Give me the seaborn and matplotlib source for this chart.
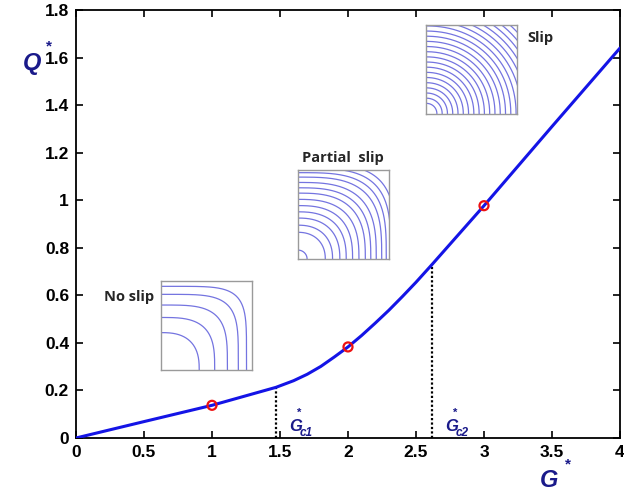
import numpy as np
import pandas as pd
import matplotlib
matplotlib.use("Agg")
import matplotlib.pyplot as plt
import seaborn as sns

# Load–transfer curve Q* versus G*
g_star = [0.0, 0.5, 1.0, 1.47, 1.6, 1.7, 1.8, 1.9, 2.0, 2.1, 2.2, 2.3, 2.4, 2.5, 2.62, 3.0, 3.5, 4.0]
q_star = [0.0, 0.069, 0.1375, 0.213, 0.241, 0.268, 0.301, 0.341, 0.383, 0.431, 0.483, 0.537, 0.595, 0.655, 0.731, 0.977, 1.31, 1.64]

# Sampled states
g_marks = [1.0, 2.0, 3.0]
q_marks = [0.1375, 0.383, 0.977]

# Critical values
g_c1, q_c1 = 1.47, 0.213
g_c2, q_c2 = 2.62, 0.731

x_ticks = [0, 0.5, 1, 1.5, 2, 2.5, 3, 3.5, 4]
x_tick_labels = ["0", "0.5", "1", "1.5", "2", "2.5", "3", "3.5", "4"]
y_ticks = [0, 0.2, 0.4, 0.6, 0.8, 1.0, 1.2, 1.4, 1.6, 1.8]
y_tick_labels = ["0", "0.2", "0.4", "0.6", "0.8", "1", "1.2", "1.4", "1.6", "1.8"]

# Contour radii and shape exponents of the three inset maps
noslip_r = [0.42, 0.59, 0.73, 0.85, 0.94]
noslip_p = [2.6, 3.2, 3.8, 4.6, 5.5]
partial_r = [0.1, 0.3, 0.38, 0.46, 0.53, 0.6, 0.67, 0.74, 0.8, 0.86, 0.92, 0.97, 1.02, 1.07]
partial_p = [2.0, 2.2, 2.3, 2.4, 2.5, 2.6, 2.7, 2.8, 2.9, 3.0, 3.2, 3.4, 3.6, 3.8]
slip_r = [0.12 + 0.058 * i for i in range(22)]
slip_p = [2.1] * 22

sns.set_theme(style="white")
plt.rcParams["font.family"] = ["Liberation Sans", "DejaVu Sans"]

fig = plt.figure(figsize=(6.24, 4.91), dpi=100)
W, H = 624, 491
ax = fig.add_axes([76 / W, 1 - 438 / H, 544 / W, 428 / H])

df = pd.DataFrame({"G": g_star, "Q": q_star})
sns.lineplot(data=df, x="G", y="Q", ax=ax, color="#1414e6", lw=2.2, sort=True, zorder=3)
ax.vlines([g_c1, g_c2], 0, [q_c1, q_c2], colors="black", linestyles=(0, (1, 1)), lw=1.6, zorder=2)
sns.scatterplot(x=g_marks, y=q_marks, ax=ax, s=42, facecolor="none",
                edgecolor="#ee1111", linewidth=1.6, zorder=4)

ax.set_xlim(0, 4)
ax.set_ylim(0, 1.8)
ax.set_xticks(x_ticks)
ax.set_xticklabels(x_tick_labels)
ax.set_yticks(y_ticks)
ax.set_yticklabels(y_tick_labels)
ax.tick_params(direction="in", length=5, width=1.2, bottom=True, left=True, top=True, right=True,
               labelsize=12.5, pad=5, colors="black")
for lab in ax.get_xticklabels() + ax.get_yticklabels():
    lab.set_fontweight("bold")
for s in ax.spines.values():
    s.set_color("black")
    s.set_linewidth(1.3)
ax.set_xlabel("")
ax.set_ylabel("")

navy = "#1a1a8a"
# axis titles Q* and G*
fig.text(23 / W, 1 - 70 / H, "Q", color=navy, fontsize=17, fontweight="bold",
         fontstyle="italic", ha="left", va="baseline")
fig.text(46 / W, 1 - 50 / H, "*", color=navy, fontsize=11, fontweight="bold", ha="left", va="baseline")
fig.text(540 / W, 1 - 487 / H, "G", color=navy, fontsize=17, fontweight="bold",
         fontstyle="italic", ha="left", va="baseline")
fig.text(565 / W, 1 - 468 / H, "*", color=navy, fontsize=11, fontweight="bold", ha="left", va="baseline")

# critical-point labels G*_c1 and G*_c2
for gx, name in [(289, "c1"), (445, "c2")]:
    fig.text(gx / W, 1 - 431 / H, "G", color=navy, fontsize=12, fontweight="bold",
             fontstyle="italic", ha="left", va="baseline")
    fig.text((gx + 8) / W, 1 - 416 / H, "*", color=navy, fontsize=8, fontweight="bold",
             ha="left", va="baseline")
    fig.text((gx + 11) / W, 1 - 436 / H, name, color=navy, fontsize=8.5, fontweight="bold",
             fontstyle="italic", ha="left", va="baseline")


def inset(x0, y0, w, h, radii, exps):
    iax = fig.add_axes([x0 / W, 1 - (y0 + h) / H, w / W, h / H])
    t = np.linspace(0, np.pi / 2, 200)
    for r, p in zip(radii, exps):
        c, s = np.cos(t), np.sin(t)
        xs = r * np.abs(c) ** (2 / p)
        ys = r * np.abs(s) ** (2 / p)
        iax.plot(xs, ys, color="#7474e0", lw=0.9)
    iax.set_xlim(0, 1)
    iax.set_ylim(0, 1)
    iax.set_xticks([])
    iax.set_yticks([])
    for sp in iax.spines.values():
        sp.set_color("#9a9a9a")
        sp.set_linewidth(1.0)
    iax.set_facecolor("white")
    return iax


inset(161, 281, 91, 89, noslip_r, noslip_p)
inset(298, 170, 91, 89, partial_r, partial_p)
inset(426, 25, 91, 89, slip_r, slip_p)

lab_font = ["Open Sans", "DejaVu Sans"]
fig.text(104 / W, 1 - 301 / H, "No slip", family=lab_font, fontsize=10.5,
         fontweight="bold", ha="left", va="baseline")
fig.text(302 / W, 1 - 162 / H, "Partial  slip", family=lab_font, fontsize=10.5,
         fontweight="bold", ha="left", va="baseline")
fig.text(527 / W, 1 - 42 / H, "Slip", family=lab_font, fontsize=10.5,
         fontweight="bold", ha="left", va="baseline")

fig.savefig("out.png", dpi=100)
